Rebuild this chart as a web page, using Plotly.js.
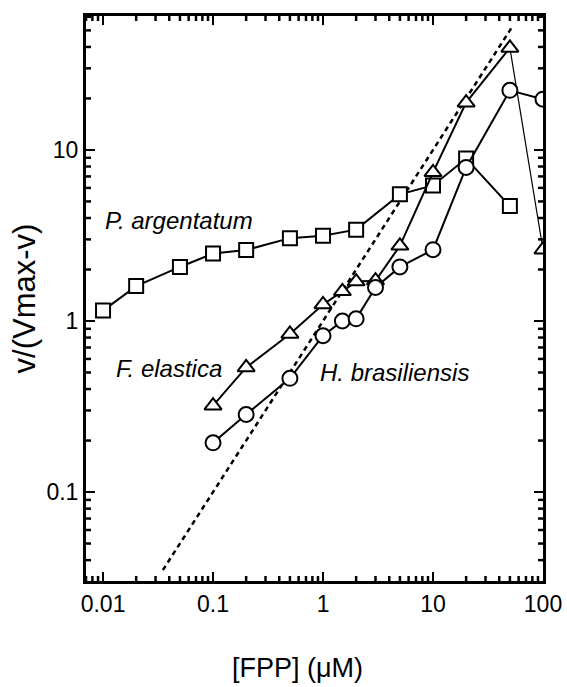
<!DOCTYPE html>
<html>
<head>
<meta charset="utf-8">
<script src="https://cdn.plot.ly/plotly-3.0.1.min.js"></script>
<style>html,body{margin:0;padding:0;background:#fff;}#chart{width:567px;height:687px;}</style>
</head>
<body>
<div id="chart"></div>
<script>
// P. argentatum (squares)
const xArg = [0.01, 0.02, 0.05, 0.1, 0.2, 0.5, 1, 2, 5, 10, 20, 50];
const yArg = [1.15, 1.60, 2.07, 2.48, 2.60, 3.05, 3.15, 3.42, 5.5, 6.2, 8.9, 4.7];
// F. elastica (triangles)
const xEla = [0.1, 0.2, 0.5, 1, 1.5, 2, 3, 5, 10, 20, 50, 100];
const yEla = [0.32, 0.535, 0.84, 1.25, 1.49, 1.70, 1.72, 2.75, 7.4, 18.9, 39.5, 2.61];
// H. brasiliensis (circles)
const xBra = [0.1, 0.2, 0.5, 1, 1.5, 2, 3, 5, 10, 20, 50, 100];
const yBra = [0.194, 0.284, 0.462, 0.82, 1.0, 1.03, 1.57, 2.07, 2.61, 7.9, 22.3, 19.8];
// reference line (slope 1)
const xRef = [0.035, 52];
const yRef = [0.035, 52];
// tick labels
const xTickVals = [0.01, 0.1, 1, 10, 100];
const xTickText = ['0.01', '0.1', '1', '10', '100'];
const yTickVals = [0.1, 1, 10];
const yTickText = ['0.1', '1', '10'];

const FONT = 'Liberation Sans, Arial, Helvetica, sans-serif';
const W = 567, H = 687, M = {l: 86, r: 24, t: 16, b: 106};
const XR = [-2.155, 2.0], YR = [-1.52, 1.783];
const pxPerDecX = (W - M.l - M.r) / (XR[1] - XR[0]);
const pxPerDecY = (H - M.t - M.b) / (YR[1] - YR[0]);

function minorVals(range) {
  const v = [];
  for (let k = Math.floor(range[0]); k <= Math.ceil(range[1]); k++)
    for (let m = 2; m <= 9; m++) {
      const t = m * Math.pow(10, k), l = Math.log10(t);
      if (l > range[0] && l < range[1]) v.push(t);
    }
  return v;
}

// short inward minor ticks on all four sides, built from the axis ranges
const MIN = 5;
function minorTickTrace(len) {
  const tx = [], ty = [];
  const seg = (x0, y0, x1, y1) => { tx.push(x0, x1, null); ty.push(y0, y1, null); };
  const dY = len / pxPerDecY, dX = len / pxPerDecX;
  minorVals(XR).forEach(v => {
    seg(v, Math.pow(10, YR[0]), v, Math.pow(10, YR[0] + dY));
    seg(v, Math.pow(10, YR[1]), v, Math.pow(10, YR[1] - dY));
  });
  minorVals(YR).forEach(v => {
    seg(Math.pow(10, XR[0]), v, Math.pow(10, XR[0] + dX), v);
    seg(Math.pow(10, XR[1]), v, Math.pow(10, XR[1] - dX), v);
  });
  return {x: tx, y: ty, mode: 'lines', line: {color: '#000', width: 2.5}, hoverinfo: 'skip', connectgaps: false};
}

const mk = (sym, size) => ({symbol: sym, size: size, color: '#fff', line: {color: '#000', width: 2}});
const n = xEla.length;

const traces = [
  minorTickTrace(MIN),
  {x: xRef, y: yRef, mode: 'lines', line: {color: '#000', width: 2.5, dash: '5px,4px'}, hoverinfo: 'skip'},
  {x: xArg, y: yArg, mode: 'lines+markers', line: {color: '#000', width: 2}, marker: mk('square', 14)},
  {x: xEla.slice(n - 2), y: yEla.slice(n - 2), mode: 'lines', line: {color: '#000', width: 1.2}},
  {x: xEla.slice(0, n - 1), y: yEla.slice(0, n - 1), mode: 'lines', line: {color: '#000', width: 2}},
  {x: xEla, y: yEla, mode: 'markers', marker: mk('triangle-up', 15)},
  {x: xBra, y: yBra, mode: 'lines+markers', line: {color: '#000', width: 2}, marker: mk('circle', 15)}
];

const axisCommon = {
  type: 'log', showgrid: false, zeroline: false,
  showline: true, linecolor: '#000', linewidth: 3, mirror: 'ticks',
  ticks: 'inside', ticklen: 9, tickwidth: 2.5, tickcolor: '#000', tickmode: 'array',
  tickfont: {family: FONT, size: 23, color: '#000'}
};

const layout = {
  width: W, height: H,
  margin: M,
  paper_bgcolor: '#fff', plot_bgcolor: '#fff',
  showlegend: false,
  xaxis: Object.assign({}, axisCommon, {
    range: XR, tickvals: xTickVals, ticktext: xTickText
  }),
  yaxis: Object.assign({}, axisCommon, {
    range: YR, tickvals: yTickVals, ticktext: yTickText,
    title: {text: 'v/(Vmax-v)', font: {family: FONT, size: 31, color: '#000'}, standoff: 2}
  }),
  annotations: [
    {x: 0.463, y: -0.154, xref: 'paper', yref: 'paper', text: '[FPP] (\u03BCM)', showarrow: false, xanchor: 'center', yanchor: 'middle', font: {family: FONT, size: 27, color: '#000'}},
    {x: Math.log10(0.01), y: Math.log10(3.88), xref: 'x', yref: 'y', text: '<i>P. argentatum</i>', showarrow: false, xanchor: 'left', yanchor: 'middle', font: {family: FONT, size: 24, color: '#000'}},
    {x: Math.log10(0.0127), y: Math.log10(0.526), xref: 'x', yref: 'y', text: '<i>F. elastica</i>', showarrow: false, xanchor: 'left', yanchor: 'middle', font: {family: FONT, size: 24, color: '#000'}},
    {x: Math.log10(0.90), y: Math.log10(0.499), xref: 'x', yref: 'y', text: '<i>H. brasiliensis</i>', showarrow: false, xanchor: 'left', yanchor: 'middle', font: {family: FONT, size: 24, color: '#000'}}
  ]
};

Plotly.newPlot('chart', traces, layout, {staticPlot: true, displayModeBar: false});
</script>
</body>
</html>
